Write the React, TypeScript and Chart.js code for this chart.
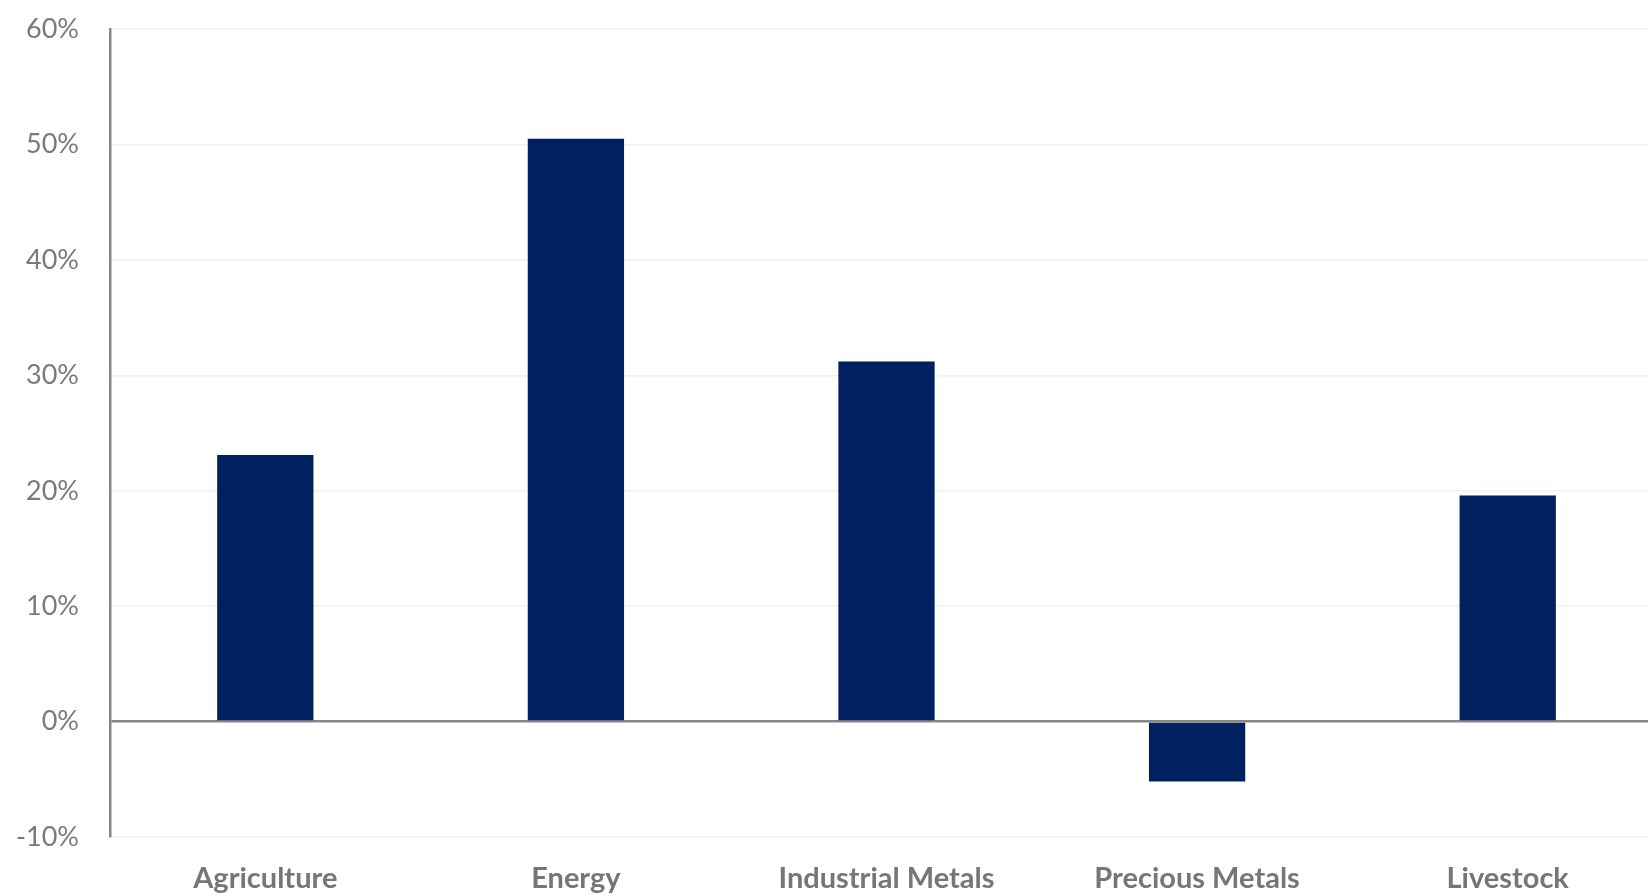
import React, { useEffect, useRef } from "react";
import { Chart, registerables } from "chart.js";

Chart.register(...registerables);

const categories = ["Agriculture", "Energy", "Industrial Metals", "Precious Metals", "Livestock"];
const returns = [23.1, 50.5, 31.2, -5.2, 19.6];
const yTicks = [-10, 0, 10, 20, 30, 40, 50, 60];

const CW = 1663;
const CH = 914;

export default function App() {
  const ref = useRef<HTMLCanvasElement | null>(null);
  useEffect(() => {
    document.body.style.margin = "0";
    const ctx = ref.current!;
    const chart = new Chart(ctx, {
      type: "bar",
      data: {
        labels: categories,
        datasets: [
          {
            data: returns,
            backgroundColor: "#002060",
            borderWidth: 0,
            barPercentage: 0.31,
            categoryPercentage: 1,
          },
        ],
      },
      options: {
        animation: false,
        responsive: false,
        maintainAspectRatio: false,
        layout: { padding: { top: 12, right: 0, left: 0, bottom: 0 } },
        plugins: { legend: { display: false }, tooltip: { enabled: false } },
        scales: {
          x: {
            grid: { display: false, drawTicks: false },
            border: { display: false },
            ticks: {
              color: "#767676",
              padding: 24,
              font: { family: "Lato", size: 29, weight: "bold" },
              maxRotation: 0,
            },
            afterFit: (s: any) => {
              s.height = 59;
            },
          },
          y: {
            min: -10,
            max: 60,
            afterBuildTicks: (s: any) => {
              s.ticks = yTicks.map((v) => ({ value: v }));
            },
            grid: {
              drawTicks: false,
              color: (c: any) => (c.tick && c.tick.value === 0 ? "#878787" : "#f0f0f0"),
              lineWidth: (c: any) => (c.tick && c.tick.value === 0 ? 2.5 : 1.5),
            },
            border: { display: true, color: "#878787", width: 2.5 },
            ticks: {
              color: "#7a7a7a",
              padding: 31,
              font: { family: "Lato", size: 27 },
              callback: (v: any) => `${v}%`,
            },
            afterFit: (s: any) => {
              s.width = 110;
            },
          },
        },
      },
    });
    return () => chart.destroy();
  }, []);
  return (
    <div style={{ position: "absolute", left: 0, top: 0, width: 1648, height: 896, background: "#fff", overflow: "hidden" }}>
      <canvas
        ref={ref}
        width={CW}
        height={CH}
        style={{ position: "absolute", left: 0, top: -18, width: CW, height: CH }}
      />
    </div>
  );
}
